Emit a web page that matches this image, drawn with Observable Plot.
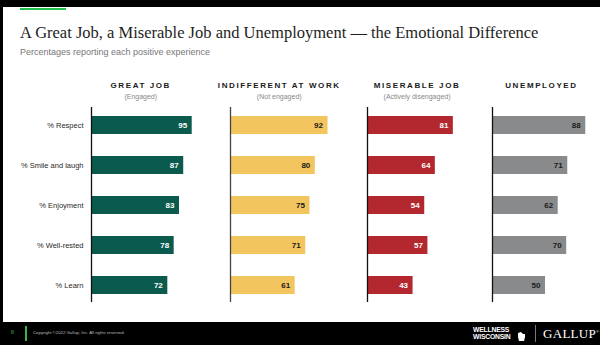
<!DOCTYPE html>
<html><head><meta charset="utf-8">
<script src="https://cdn.jsdelivr.net/npm/d3@7"></script>
<script src="https://cdn.jsdelivr.net/npm/@observablehq/plot@0.6"></script>
<style>
html,body{margin:0;padding:0;background:#fff;}
#page{position:relative;width:600px;height:345px;overflow:hidden;background:#fff;font-family:"Liberation Sans",Arial,sans-serif;}
.abs{position:absolute;}
#topbar{left:0;top:0;width:600px;height:7px;background:#000;}
#leftbar{left:0;top:0;width:3px;height:345px;background:#000;}
#accent{left:20px;top:8px;width:46px;height:2px;background:#22c24a;}
#title{left:20px;top:23px;font-family:"Liberation Serif","Times New Roman",serif;font-size:16.5px;color:#1e1e1e;white-space:nowrap;line-height:20px;}
#subtitle{left:20px;top:46px;font-size:9px;color:#777;white-space:nowrap;line-height:12px;}
.head{position:absolute;transform:translateX(-50%);text-align:center;white-space:nowrap;}
.head .h1{font-weight:bold;font-size:8px;letter-spacing:1.6px;color:#1a1a1a;line-height:10px;}
.head .h2{font-size:7px;color:#888;line-height:10px;margin-top:1px;}
.panel{position:absolute;top:100px;}
#footer{left:0;top:322px;width:600px;height:23px;background:#000;}
#pnum{left:11px;top:329px;font-size:5px;color:#3bb54a;}
#pline{left:25px;top:326px;width:1.5px;height:15px;background:#3bb54a;}
#copy{left:33px;top:330px;font-size:4.3px;color:#bbb;white-space:nowrap;}
#well{left:473px;top:326px;font-size:6.8px;line-height:7px;font-weight:bold;color:#fff;font-family:"Liberation Sans Narrow","Liberation Sans",Arial,sans-serif;letter-spacing:-0.2px;}
#sep{left:535px;top:325px;width:1px;height:17px;background:#777;}
#gallup{left:543px;top:326px;font-family:"Liberation Serif",serif;font-size:13px;color:#fff;letter-spacing:0.3px;white-space:nowrap;}
#gallup sup{font-size:4px;}
</style>
</head><body>
<div id="page">
  <div class="abs" id="topbar"></div>
  <div class="abs" id="leftbar"></div>
  <div class="abs" id="accent"></div>
  <div class="abs" id="title">A Great Job, a Miserable Job and Unemployment — the Emotional Difference</div>
  <div class="abs" id="subtitle">Percentages reporting each positive experience</div>
  <div class="abs" id="footer"></div>
  <div class="abs" id="pnum">8</div>
  <div class="abs" id="pline"></div>
  <div class="abs" id="copy">Copyright ©2022 Gallup, Inc. All rights reserved.</div>
  <div class="abs" id="well">WELLNESS<br>WISCONSIN</div>
  <svg class="abs" style="left:517px;top:332px" width="9" height="9" viewBox="0 0 9 9"><path d="M1 1 L4 0 L6 2 L8 2 L8 5 L7 9 L2 9 L1 5 Z" fill="#fff"/></svg>
  <div class="abs" id="sep"></div>
  <div class="abs" id="gallup">GALLUP<sup>®</sup></div>
</div>
<script>
const categories = ["% Respect", "% Smile and laugh", "% Enjoyment", "% Well-rested", "% Learn"];
const groups = ["GREAT JOB", "INDIFFERENT AT WORK", "MISERABLE JOB", "UNEMPLOYED"];
const subLabels = ["(Engaged)", "(Not engaged)", "(Actively disengaged)", ""];
const greatJob = [95, 87, 83, 78, 72];
const indifferent = [92, 80, 75, 71, 61];
const miserable = [81, 64, 54, 57, 43];
const unemployed = [88, 71, 62, 70, 50];
const series = [greatJob, indifferent, miserable, unemployed];

const colors = ["#0b5a4e", "#f2c55f", "#b3282f", "#888a8c"];
const labelColors = ["#ffffff", "#1a1a1a", "#ffffff", "#1a1a1a"];
const axisX = [91, 229.5, 367.3, 491.7];
const innerW = 106;

const page = document.getElementById("page");
series.forEach((vals, i) => {
  const rows = categories.map((c, j) => ({category: c, value: vals[j]}));
  const ml = i === 0 ? axisX[0] : 2;
  const mr = 4;
  const chart = Plot.plot({
    width: ml + innerW + mr,
    height: 208,
    marginTop: 3, marginBottom: 2, marginLeft: ml, marginRight: mr,
    x: {domain: [0, 100], axis: null},
    y: {domain: categories, paddingInner: 0.55, paddingOuter: 0.275, axis: i === 0 ? "left" : null, tickSize: 0, tickPadding: 8, label: null},
    style: {fontFamily: "'Liberation Sans', Arial, sans-serif", fontSize: "7.5px", color: "#2a2a2a", background: "transparent", overflow: "visible"},
    marks: [
      Plot.barX(rows, {x: "value", y: "category", fill: colors[i]}),
      Plot.ruleX([0], {stroke: i === 1 ? "#444" : "#111", strokeWidth: 1.3, insetTop: 4, insetBottom: 4}),
      Plot.text(rows, {x: "value", y: "category", text: d => String(d.value), textAnchor: "end", dx: -5, fill: labelColors[i], fontWeight: "bold", fontSize: 8})
    ]
  });
  chart.classList.add("panel");
  chart.style.left = (axisX[i] - ml) + "px";
  page.appendChild(chart);

  const xs = chart.scale("x");
  const head = document.createElement("div");
  head.className = "head";
  head.style.left = (axisX[i] + xs.apply(46) - ml + 1) + "px";
  head.style.top = "81px";
  head.innerHTML = `<div class="h1">${groups[i]}</div><div class="h2">${subLabels[i] || "&nbsp;"}</div>`;
  page.appendChild(head);
});
</script>
</body></html>
